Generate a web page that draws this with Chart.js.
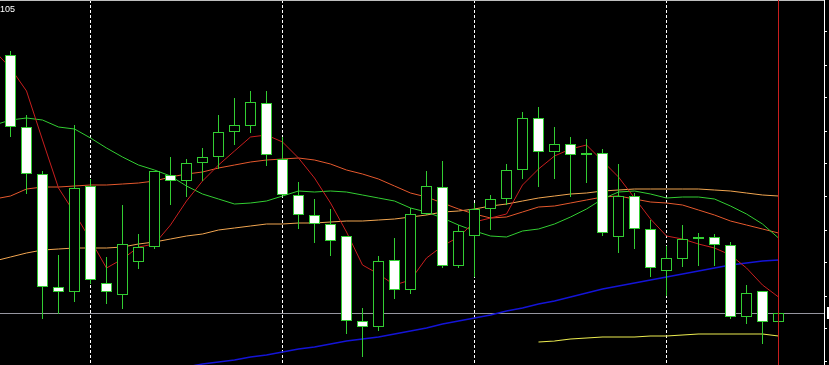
<!DOCTYPE html>
<html>
<head>
<meta charset="utf-8">
<script src="https://cdn.jsdelivr.net/npm/chart.js@4.4.1/dist/chart.umd.min.js"></script>
<style>
  html, body { margin: 0; padding: 0; background: #000; overflow: hidden; }
  #wrap { width: 829px; height: 365px; overflow: hidden; }
  canvas { display: block; }
</style>
</head>
<body>
<div id="wrap"><canvas id="chart" width="900" height="365"></canvas></div>
<script>
// OHLC, one entry per bar (left to right)
const opens = [105.725, 105.365, 105.130, 104.565, 104.540, 105.070, 104.585, 104.525, 104.690, 104.765,
  105.125, 105.095, 105.185, 105.215, 105.340, 105.370, 105.485, 105.205, 105.025, 104.925,
  104.880, 104.820, 104.395, 104.365, 104.700, 104.550, 104.930, 105.065, 104.670, 104.820,
  104.955, 105.005, 105.150, 105.410, 105.240, 105.280, 105.225, 105.235, 104.815, 105.020,
  104.855, 104.645, 104.705, 104.805, 104.815, 104.775, 104.415, 104.545, 104.390]
const highs = [105.745, 105.425, 105.145, 104.725, 105.375, 105.105, 104.715, 104.975, 104.830, 105.145,
  105.215, 105.205, 105.260, 105.425, 105.510, 105.545, 105.545, 105.315, 105.090, 105.005,
  104.955, 104.820, 104.460, 104.720, 104.810, 104.960, 105.145, 105.195, 104.875, 104.985,
  105.025, 105.180, 105.440, 105.465, 105.365, 105.315, 105.305, 105.255, 105.180, 105.035,
  104.900, 104.770, 104.875, 104.835, 104.830, 104.790, 104.575, 104.545, 104.450]
const lows = [105.315, 105.030, 104.405, 104.430, 104.490, 104.580, 104.480, 104.455, 104.655, 104.755,
  104.975, 105.015, 105.095, 105.155, 105.275, 105.335, 105.170, 105.025, 104.855, 104.785,
  104.720, 104.330, 104.215, 104.345, 104.505, 104.530, 104.925, 104.660, 104.660, 104.615,
  104.850, 104.975, 105.105, 105.065, 105.105, 105.015, 105.085, 104.820, 104.735, 104.755,
  104.615, 104.520, 104.665, 104.670, 104.670, 104.405, 104.380, 104.280, 104.325]
const closes = [105.365, 105.130, 104.565, 104.540, 105.060, 104.600, 104.540, 104.780, 104.765, 105.145,
  105.095, 105.185, 105.215, 105.340, 105.375, 105.490, 105.225, 105.025, 104.925, 104.880,
  104.795, 104.395, 104.365, 104.695, 104.550, 104.930, 105.070, 104.670, 104.845, 104.955,
  105.005, 105.150, 105.410, 105.240, 105.280, 105.225, 105.235, 104.835, 105.020, 104.855,
  104.660, 104.710, 104.805, 104.815, 104.775, 104.415, 104.535, 104.390, 104.435]

// indicator lines: first value belongs to the bar just left of the visible window
const maRed = [105.745, 105.660, 105.545, 105.300, 105.060, 104.935, 104.800, 104.660, 104.705, 104.765,
  104.780, 104.875, 104.995, 105.095, 105.175, 105.245, 105.315, 105.325, 105.290, 105.210,
  105.110, 104.985, 104.840, 104.675, 104.630, 104.575, 104.600, 104.710, 104.770, 104.815,
  104.890, 104.910, 104.930, 105.075, 105.155, 105.220, 105.255, 105.275, 105.195, 105.115,
  105.010, 104.905, 104.820, 104.805, 104.780, 104.760, 104.725, 104.660, 104.575, 104.515]
const maGreen = [105.375, 105.400, 105.410, 105.400, 105.365, 105.355, 105.310, 105.260, 105.215, 105.175,
  105.150, 105.120, 105.070, 105.030, 105.005, 104.980, 104.985, 104.995, 105.020, 105.045,
  105.040, 105.045, 105.040, 105.025, 105.010, 104.995, 104.960, 104.940, 104.910, 104.875,
  104.845, 104.820, 104.815, 104.845, 104.855, 104.880, 104.915, 104.955, 105.005, 105.040,
  105.045, 105.030, 105.010, 105.015, 105.015, 105.005, 104.970, 104.930, 104.880, 104.810]
const maOrangeRed = [105.005, 105.020, 105.055, 105.065, 105.065, 105.070, 105.075, 105.075, 105.080, 105.085,
  105.095, 105.115, 105.130, 105.140, 105.160, 105.175, 105.190, 105.200, 105.205, 105.210,
  105.200, 105.180, 105.150, 105.130, 105.105, 105.070, 105.035, 105.015, 104.985, 104.955,
  104.930, 104.910, 104.915, 104.940, 104.965, 104.970, 104.985, 105.000, 105.015, 105.020,
  105.005, 104.990, 104.985, 104.975, 104.950, 104.925, 104.895, 104.875, 104.855, 104.835]
const maSandy = [104.695, 104.715, 104.735, 104.750, 104.755, 104.760, 104.760, 104.760, 104.765, 104.780,
  104.790, 104.805, 104.820, 104.830, 104.850, 104.860, 104.870, 104.880, 104.880, 104.885,
  104.885, 104.890, 104.895, 104.895, 104.900, 104.905, 104.915, 104.925, 104.940, 104.945,
  104.955, 104.970, 104.980, 104.995, 105.010, 105.020, 105.030, 105.035, 105.045, 105.050,
  105.055, 105.055, 105.055, 105.055, 105.055, 105.050, 105.045, 105.035, 105.025, 105.020]
const maBlue = Array(12).fill(null).concat([104.165, 104.180, 104.190, 104.200, 104.215, 104.225, 104.240,
  104.255, 104.265, 104.280, 104.295, 104.305, 104.315, 104.330, 104.345, 104.360, 104.380, 104.395,
  104.410, 104.425, 104.445, 104.460, 104.480, 104.495, 104.515, 104.535, 104.555, 104.570, 104.585,
  104.600, 104.615, 104.630, 104.645, 104.660, 104.675, 104.685, 104.695, 104.700])
const maYellow = Array(34).fill(null).concat([104.290, 104.295, 104.305, 104.310, 104.315, 104.315,
  104.315, 104.320, 104.320, 104.325, 104.330, 104.330, 104.330, 104.330, 104.330, 104.320])

// price axis marks and period separators (bar index)
const priceTicks = [104.190, 104.355, 104.520, 104.685, 104.850, 105.015, 105.180, 105.345, 105.510, 105.675, 105.840]
const separatorBars = [5, 17, 29, 41]
const topLabel = '105'

const candleGreen = 'rgb(50,205,50)'

// line dataset helper, shifted by one since the first value is off-screen
function lineSet (label, values, color, width) {
  return {
    type: 'line',
    label: label,
    data: values.map((v, i) => ({ x: i - 1, y: v })),
    borderColor: color,
    borderWidth: width,
    pointRadius: 0,
    tension: 0,
    fill: false,
    order: 10
  }
}

const mt4Overlay = {
  id: 'mt4Overlay',
  beforeDatasetsDraw (chart) {
    const { ctx, chartArea, scales } = chart
    const bidY = Math.round(scales.y.getPixelForValue(closes[closes.length - 1])) + 0.5
    ctx.save()
    ctx.strokeStyle = 'rgb(150,150,160)'
    ctx.lineWidth = 1
    ctx.beginPath()
    ctx.moveTo(chartArea.left, bidY)
    ctx.lineTo(chartArea.right, bidY)
    ctx.stroke()
    // top frame
    ctx.strokeStyle = 'rgb(190,190,190)'
    ctx.beginPath()
    ctx.moveTo(chartArea.left, 0.5)
    ctx.lineTo(chartArea.right, 0.5)
    ctx.stroke()
    ctx.restore()
  },
  afterDatasetsDraw (chart) {
    const { ctx, chartArea, scales } = chart
    const lastX = scales.x.getPixelForValue(closes.length - 1)
    ctx.save()
    ctx.strokeStyle = 'rgb(200,30,30)'
    ctx.lineWidth = 1
    ctx.beginPath()
    ctx.moveTo(lastX, chartArea.top)
    ctx.lineTo(lastX, chartArea.bottom)
    ctx.stroke()

    // bid price label on the axis
    const bid = closes[closes.length - 1]
    const bidY = Math.round(scales.y.getPixelForValue(bid))
    ctx.fillStyle = '#ffffff'
    ctx.fillRect(chartArea.right + 3, bidY - 6, 48, 12)
    ctx.fillStyle = '#000000'
    ctx.font = '9px "Liberation Sans"'
    ctx.textBaseline = 'middle'
    ctx.fillText(bid.toFixed(3), chartArea.right + 6, bidY)

    ctx.fillStyle = '#ffffff'
    ctx.font = '9px "Liberation Sans"'
    ctx.textBaseline = 'alphabetic'
    ctx.fillText(topLabel, 0, 12)
    ctx.restore()
  }
}

const ctx = document.getElementById('chart').getContext('2d')
const chart = new Chart(ctx, {
  type: 'bar',
  data: {
    datasets: [
      lineSet('MA fast', maRed, 'rgb(200,30,30)', 1),
      lineSet('MA green', maGreen, 'rgb(50,205,50)', 1),
      lineSet('MA mid', maOrangeRed, 'rgb(228,88,45)', 1),
      lineSet('MA slow', maSandy, 'rgb(240,165,80)', 1),
      lineSet('MA long', maBlue, 'rgb(20,20,215)', 1.5),
      lineSet('MA yellow', maYellow, 'rgb(235,235,80)', 1.2),
      {
        type: 'bar',
        label: 'wick',
        data: highs.map((h, i) => ({ x: i, y: [lows[i], h] })),
        backgroundColor: candleGreen,
        borderWidth: 0,
        barThickness: 1,
        grouped: false,
        inflateAmount: 0,
        order: 3
      },
      {
        type: 'bar',
        label: 'body',
        data: opens.map((o, i) => ({ x: i, y: [o, closes[i]] })),
        backgroundColor: opens.map((o, i) => closes[i] < o ? '#ffffff' : '#000000'),
        borderColor: candleGreen,
        borderWidth: 1,
        borderSkipped: false,
        barThickness: 11,
        grouped: false,
        inflateAmount: 0,
        order: 2
      }
    ]
  },
  options: {
    responsive: false,
    animation: false,
    events: [],
    layout: { padding: 0 },
    plugins: {
      legend: { display: false },
      tooltip: { enabled: false }
    },
    scales: {
      x: {
        type: 'linear',
        min: -10.5 / 16,
        max: -10.5 / 16 + 824 / 16,
        offset: false,
        afterBuildTicks: scale => { scale.ticks = separatorBars.map(v => ({ value: v })) },
        afterFit: scale => {
          scale.height = 0
          scale.paddingLeft = 0
          scale.paddingRight = 0
        },
        ticks: { display: false },
        grid: { color: '#ffffff', lineWidth: 1, drawTicks: false, offset: false },
        border: { display: false, dash: [3, 2] }
      },
      y: {
        position: 'right',
        min: 104.175,
        max: 106.0,
        beginAtZero: false,
        afterBuildTicks: scale => { scale.ticks = priceTicks.map(v => ({ value: v })) },
        afterFit: scale => {
          scale.width = 76
          // labels sit off-screen anyway, keep the plot full height
          scale.paddingTop = 0
          scale.paddingBottom = 0
        },
        ticks: {
          color: '#ffffff',
          font: { family: 'Liberation Sans', size: 9 },
          padding: 3,
          callback: v => v.toFixed(3)
        },
        grid: { drawOnChartArea: false, drawTicks: true, tickLength: 3, tickColor: '#ffffff' },
        border: { display: true, color: '#ffffff', width: 1 }
      }
    }
  },
  plugins: [mt4Overlay]
})
</script>
</body>
</html>
